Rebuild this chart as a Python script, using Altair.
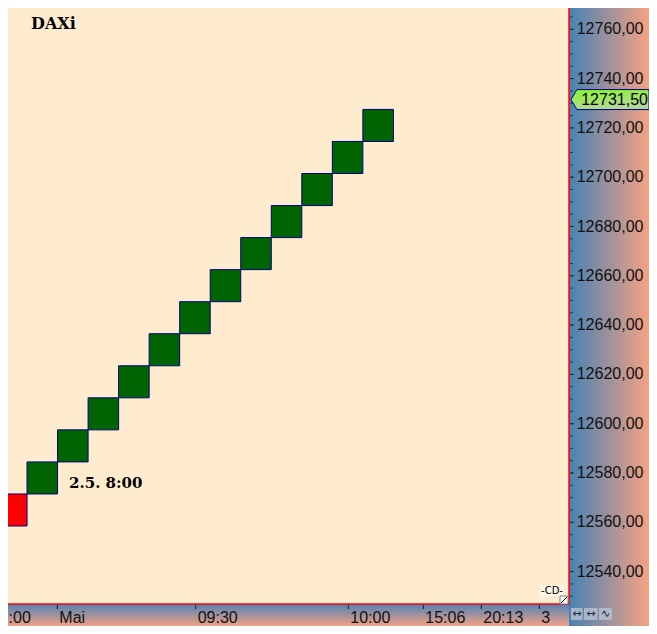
import altair as alt
import pandas as pd

# ---------------- data ----------------
chart_title = "DAXi"

brick_index = [0, 1, 2, 3, 4, 5, 6, 7, 8, 9, 10, 11, 12]
brick_low = [12558.5, 12571.5, 12584.5, 12597.5, 12610.5, 12623.5, 12636.5,
             12649.5, 12662.5, 12675.5, 12688.5, 12701.5, 12714.5]
brick_high = [12571.5, 12584.5, 12597.5, 12610.5, 12623.5, 12636.5, 12649.5,
              12662.5, 12675.5, 12688.5, 12701.5, 12714.5, 12727.5]
brick_dir = ["down", "up", "up", "up", "up", "up", "up",
             "up", "up", "up", "up", "up", "up"]

last_price = [12731.5]

annot_text = ["2.5. 8:00"]
annot_x = [2]
annot_y = [12574.0]

y_major = [12540, 12560, 12580, 12600, 12620, 12640, 12660,
           12680, 12700, 12720, 12740, 12760]
y_minor = list(range(12530, 12766, 5))

x_tick_pos = [0.33, 1.992, 6.525, 11.523, 13.98, 15.88, 17.78]
x_tick_lab = [":00", "Mai", "09:30", "10:00", "15:06", "20:13", "3"]

# ---------------- tables ----------------
bricks_df = pd.DataFrame({
    "x0": brick_index,
    "x1": [i + 1 for i in brick_index],
    "low": brick_low,
    "high": brick_high,
    "dir": brick_dir,
})
price_df = pd.DataFrame({"price": last_price})
annot_df = pd.DataFrame({"x": annot_x, "y": annot_y, "t": annot_text})
minor_df = pd.DataFrame({"v": y_minor})
major_df = pd.DataFrame({"v": y_major})
xt_df = pd.DataFrame({"p": x_tick_pos, "lab": x_tick_lab})
one = pd.DataFrame({"k": [0]})

CREAM = "#FFEBCD"
RED = "#FF0000"
W, H = 561, 596          # plot area
PR, PB = 80, 22          # right and bottom panels

xs = alt.Scale(domain=[0.3767, 18.752], nice=False, zero=False)
ys = alt.Scale(domain=[12526.86, 12768.64], nice=False, zero=False)

grad_h = alt.Gradient(gradient="linear",
                      stops=[alt.GradientStop(color="#4682B4", offset=0),
                             alt.GradientStop(color="#F6A282", offset=1)],
                      x1=0, x2=1, y1=0, y2=0)
grad_v = alt.Gradient(gradient="linear",
                      stops=[alt.GradientStop(color="#4F82B4", offset=0),
                             alt.GradientStop(color="#F2A286", offset=1)],
                      x1=0, x2=0, y1=0, y2=1)
grad_tag = alt.Gradient(gradient="linear",
                        stops=[alt.GradientStop(color="#86F52A", offset=0),
                               alt.GradientStop(color="#B4D898", offset=1)],
                        x1=0, x2=0.3, y1=0, y2=1)

FONT = "Liberation Sans"

# ---------------- layers ----------------
right_panel = alt.Chart(one).mark_rect(fill=grad_h).encode(
    x=alt.value(W), x2=alt.value(W + PR), y=alt.value(0), y2=alt.value(H + PB))
bottom_panel = alt.Chart(one).mark_rect(fill=grad_v).encode(
    x=alt.value(0), x2=alt.value(W), y=alt.value(H), y2=alt.value(H + PB))

bricks = alt.Chart(bricks_df).mark_rect(stroke="#000080", strokeWidth=1, clip=True).encode(
    x=alt.X("x0:Q", scale=xs, axis=None),
    x2="x1:Q",
    y=alt.Y("low:Q", scale=ys, axis=None),
    y2="high:Q",
    fill=alt.Fill("dir:N", scale=alt.Scale(domain=["down", "up"],
                                           range=["#FF0000", "#006400"]), legend=None),
)

# right price axis
red_v = alt.Chart(one).mark_rule(color=RED, strokeWidth=1.5).encode(
    x=alt.value(W), y=alt.value(0), y2=alt.value(H))
red_h = alt.Chart(one).mark_rule(color=RED, strokeWidth=1.5).encode(
    x=alt.value(0), x2=alt.value(W), y=alt.value(H))
minor_ticks = alt.Chart(minor_df).mark_rule(color="#1a1a1a", strokeWidth=1).encode(
    y=alt.Y("v:Q", scale=ys, axis=None), x=alt.value(W + 1.5), x2=alt.value(W + 3.5))
major_ticks = alt.Chart(major_df).mark_rule(color="#1a1a1a", strokeWidth=1).encode(
    y=alt.Y("v:Q", scale=ys, axis=None), x=alt.value(W + 1.5), x2=alt.value(W + 4.5))
y_labels = alt.Chart(major_df).transform_calculate(
    lab="replace(format(datum.v, '.2f'), '.', ',')").mark_text(
    align="left", baseline="middle", font=FONT, fontSize=16, color="#111111").encode(
    y=alt.Y("v:Q", scale=ys, axis=None), x=alt.value(W + 7.7), text="lab:N")

# bottom time axis
x_ticks = alt.Chart(xt_df).mark_rule(color="#1a1a1a", strokeWidth=1).encode(
    x=alt.X("p:Q", scale=xs, axis=None), y=alt.value(H + 1), y2=alt.value(H + 5))
x_labels = alt.Chart(xt_df).mark_text(
    align="left", baseline="alphabetic", font=FONT, fontSize=16, color="#111111", dx=2).encode(
    x=alt.X("p:Q", scale=xs, axis=None), y=alt.value(H + 18.5), text="lab:N")

# last price tag
tag_path = "M -1 0 L -0.846 -0.2564 L 1 -0.2564 L 1 0.2564 L -0.846 0.2564 Z"
price_tag = alt.Chart(price_df).mark_point(
    shape=tag_path, size=6084, filled=True, fill=grad_tag, stroke="#000080",
    strokeWidth=1, opacity=1).encode(
    x=alt.value(W + 41), y=alt.Y("price:Q", scale=ys, axis=None))
price_text = alt.Chart(price_df).transform_calculate(
    lab="replace(format(datum.price, '.2f'), '.', ',')").mark_text(
    align="left", baseline="middle", font=FONT, fontSize=16,
    color="#000000").encode(
    x=alt.value(W + 12.2), y=alt.Y("price:Q", scale=ys, axis=None), text="lab:N")

title_mark = alt.Chart(one).mark_text(
    text=chart_title, align="left", baseline="alphabetic", font="DejaVu Serif",
    fontWeight="bold", fontSize=16, color="#000000").encode(
    x=alt.value(23), y=alt.value(20.7))

annot = alt.Chart(annot_df).mark_text(
    align="left", baseline="alphabetic", font="DejaVu Serif", fontWeight="bold",
    fontSize=15, color="#000000", dx=11.5).encode(
    x=alt.X("x:Q", scale=xs, axis=None), y=alt.Y("y:Q", scale=ys, axis=None), text="t:N")

# small decorations
plug_bg = alt.Chart(one).mark_rect(fill="#FFF6EA").encode(
    x=alt.value(532), x2=alt.value(556), y=alt.value(577), y2=alt.value(589))
plug = alt.Chart(one).mark_text(text="-CD-", font="DejaVu Sans", fontSize=10,
                                color="#000000", baseline="middle").encode(
    x=alt.value(544), y=alt.value(583))
grip = alt.Chart(one).mark_rect(fill="#FFFFFF", stroke="#808080", strokeWidth=1).encode(
    x=alt.value(552), x2=alt.value(560), y=alt.value(H - 8), y2=alt.value(H))
grip_line = alt.Chart(one).mark_rule(color="#000000", strokeWidth=1).encode(
    x=alt.value(553), x2=alt.value(559), y=alt.value(H - 1), y2=alt.value(H - 7))

icon_df = pd.DataFrame({"x0": [563, 576, 591], "x1": [574.5, 589.5, 604],
                        "g": ["↔", "↔", "∿"]})
icon_box = alt.Chart(icon_df).mark_rect(fill="#B4C0D0", opacity=0.85).encode(
    x=alt.X("x0:Q", scale=None, axis=None), x2="x1:Q",
    y=alt.value(H + 4), y2=alt.value(H + 16))
icon_txt = alt.Chart(icon_df).transform_calculate(xc="(datum.x0 + datum.x1) / 2").mark_text(
    font="DejaVu Sans", fontSize=11, color="#1c2a40", baseline="middle").encode(
    x=alt.X("xc:Q", scale=None, axis=None), y=alt.value(H + 10), text="g:N")

chart = alt.layer(
    right_panel, bottom_panel, bricks, red_v, red_h, minor_ticks, major_ticks, y_labels,
    x_ticks, x_labels, price_tag, price_text, title_mark, annot,
    plug_bg, plug, grip, grip_line, icon_box, icon_txt
).properties(
    width=W, height=H,
    autosize=alt.AutoSizeParams(type="none"),
    padding={"left": 0, "top": 0, "right": PR, "bottom": PB},
    background=CREAM,
).configure_view(stroke=None, fill=CREAM)

chart.save("out.html", embed_options={"renderer": "svg", "actions": False})
